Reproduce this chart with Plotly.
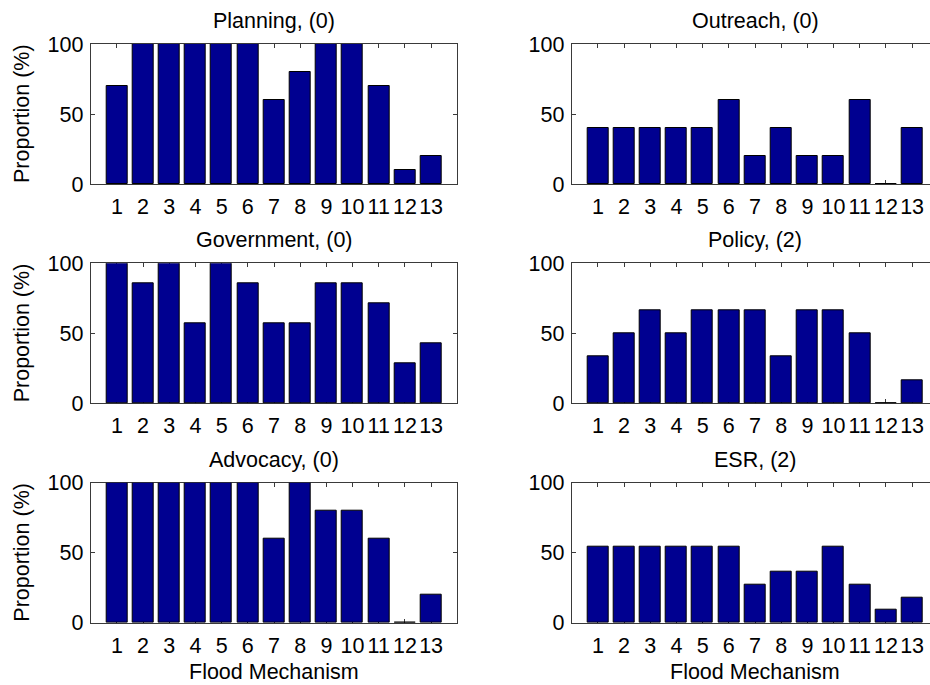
import plotly.graph_objects as go

mechanisms = list(range(1, 14))
planning = [70, 100, 100, 100, 100, 100, 60, 80, 100, 100, 70, 10, 20]
outreach = [40, 40, 40, 40, 40, 60, 20, 40, 20, 20, 60, 0, 40]
government = [100, 85.7, 100, 57.1, 100, 85.7, 57.1, 57.1, 85.7, 85.7, 71.4, 28.6, 42.9]
policy = [33.3, 50, 66.7, 50, 66.7, 66.7, 66.7, 33.3, 66.7, 66.7, 50, 0, 16.7]
advocacy = [100, 100, 100, 100, 100, 100, 60, 100, 80, 80, 60, 0, 20]
esr = [54.5, 54.5, 54.5, 54.5, 54.5, 54.5, 27.3, 36.4, 36.4, 54.5, 27.3, 9.1, 18.2]

titles = ["Planning, (0)", "Outreach, (0)", "Government, (0)", "Policy, (2)",
          "Advocacy, (0)", "ESR, (2)"]
series = [planning, outreach, government, policy, advocacy, esr]
y_ticks = [0, 50, 100]
x_label = "Flood Mechanism"
y_label = "Proportion (%)"

W, H = 930, 685
FONT = "Liberation Sans, Arial, Helvetica, sans-serif"
FS = 21.5
BAR = "#000090"
AX = "#3a3a3a"

# panel geometry in pixels
left_x = (90.7, 457.3)
right_x = (571.7, 938.3)
rows_y = [(44, 184), (263.3, 403.3), (482.7, 622.7)]

fig = go.Figure()
layout = dict()
annotations = []

for i, (vals, title) in enumerate(zip(series, titles)):
    row, col = divmod(i, 2)
    n = i + 1
    xa = "x" if n == 1 else f"x{n}"
    ya = "y" if n == 1 else f"y{n}"
    fig.add_trace(go.Bar(x=mechanisms, y=vals, width=0.8,
                         marker=dict(color=BAR, line=dict(color="black", width=1)),
                         xaxis=xa, yaxis=ya, showlegend=False))
    x0, x1 = left_x if col == 0 else right_x
    y0, y1 = rows_y[row]
    xdom_r = min(x1, W)
    xrange_max = 14 * (xdom_r - x0) / (x1 - x0)
    xkey = "xaxis" if n == 1 else f"xaxis{n}"
    ykey = "yaxis" if n == 1 else f"yaxis{n}"
    layout[xkey] = dict(
        domain=[x0 / W, xdom_r / W], anchor=ya, range=[0, xrange_max],
        tickmode="array", tickvals=mechanisms, ticktext=[str(m) for m in mechanisms],
        tickangle=0, ticks="inside", ticklen=4, tickcolor=AX,
        showline=True, linecolor=AX, linewidth=1, mirror="ticks",
        showgrid=False, zeroline=False, layer="below traces", automargin=False,
        tickfont=dict(family=FONT, size=FS, color="black"),
        ticklabelstandoff=3, fixedrange=True,
    )
    layout[ykey] = dict(
        domain=[1 - y1 / H, 1 - y0 / H], anchor=xa, range=[0, 100],
        tickmode="array", tickvals=y_ticks, ticks="inside", ticklen=4, tickcolor=AX,
        showline=True, linecolor=AX, linewidth=1,
        mirror="ticks" if col == 0 else False,
        showgrid=False, zeroline=False, layer="below traces", automargin=False,
        tickfont=dict(family=FONT, size=FS, color="black"),
        ticklabelstandoff=2, fixedrange=True,
    )
    cx = (x0 + x1) / 2
    annotations.append(dict(text=title, x=cx / W, y=1 - (y0 - 9) / H,
                            xref="paper", yref="paper", xanchor="center",
                            yanchor="bottom", showarrow=False,
                            font=dict(family=FONT, size=FS, color="black")))
    if col == 0:
        annotations.append(dict(text=y_label, x=22 / W, y=1 - ((y0 + y1) / 2) / H,
                                xref="paper", yref="paper", xanchor="center",
                                yanchor="middle", textangle=-90, showarrow=False,
                                font=dict(family=FONT, size=FS, color="black")))
    if row == 2:
        annotations.append(dict(text=x_label, x=cx / W, y=1 - 672 / H,
                                xref="paper", yref="paper", xanchor="center",
                                yanchor="middle", showarrow=False,
                                font=dict(family=FONT, size=FS, color="black")))

fig.update_layout(
    width=W, height=H, margin=dict(l=0, r=0, t=0, b=0, pad=0),
    paper_bgcolor="white", plot_bgcolor="white",
    annotations=annotations, bargap=0, **layout,
)

fig.write_html("out.html", config={"displayModeBar": False})

# remove the browser's default page margin so the figure sits at the window's corner
with open("out.html", "r", encoding="utf-8") as f:
    html = f.read()
html = html.replace("<head>", "<head><style>html,body{margin:0;padding:0;overflow:hidden;}</style>", 1)
with open("out.html", "w", encoding="utf-8") as f:
    f.write(html)
